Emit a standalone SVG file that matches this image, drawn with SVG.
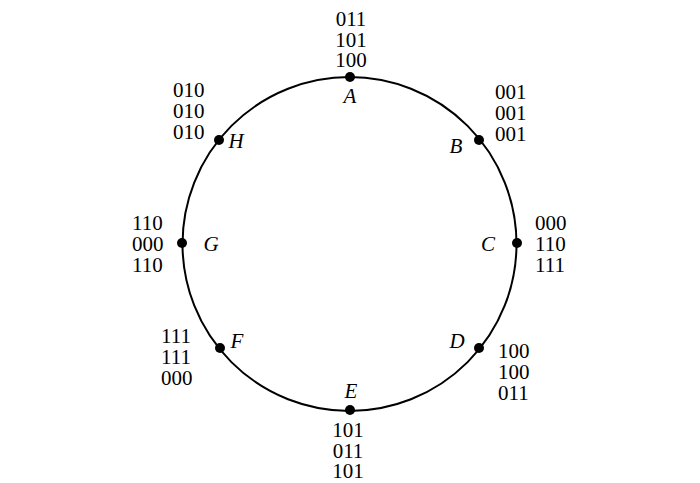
<svg xmlns="http://www.w3.org/2000/svg" width="700" height="483" viewBox="0 0 700 483">
<style>
.c{fill:none;stroke:#000;stroke-width:2}
.d{fill:#000}
.t{font-family:"Liberation Serif","Times New Roman",serif;font-size:21px;fill:#000}
.l{font-family:"Liberation Serif","Times New Roman",serif;font-size:21px;font-style:italic;fill:#000}
</style>
<rect width="700" height="483" fill="#fff"/>
<g id="connectors">
<circle class="c" cx="349.5" cy="244" r="167"/>
</g>
<g id="A">
<circle class="d" cx="350" cy="77" r="5"/>
<text class="t" x="351" text-anchor="middle"><tspan x="351" y="26">011</tspan><tspan x="351" y="47">101</tspan><tspan x="351" y="67">100</tspan></text>
<text class="l" x="350" y="103" text-anchor="middle">A</text>
</g>
<g id="B">
<circle class="d" cx="479" cy="140" r="5"/>
<text class="t" x="495"><tspan x="495" y="99">001</tspan><tspan x="495" y="120">001</tspan><tspan x="495" y="141">001</tspan></text>
<text class="l" x="456" y="153" text-anchor="middle">B</text>
</g>
<g id="C">
<circle class="d" cx="517" cy="243" r="5"/>
<text class="t" x="535"><tspan x="535" y="230">000</tspan><tspan x="535" y="251">110</tspan><tspan x="535" y="272">111</tspan></text>
<text class="l" x="488" y="251" text-anchor="middle">C</text>
</g>
<g id="D">
<circle class="d" cx="479" cy="348" r="5"/>
<text class="t" x="498"><tspan x="498" y="358">100</tspan><tspan x="498" y="379">100</tspan><tspan x="498" y="400">011</tspan></text>
<text class="l" x="457" y="348" text-anchor="middle">D</text>
</g>
<g id="E">
<circle class="d" cx="350" cy="410" r="5"/>
<text class="t" x="348" text-anchor="middle"><tspan x="348" y="437">101</tspan><tspan x="348" y="458">011</tspan><tspan x="348" y="478">101</tspan></text>
<text class="l" x="351" y="398" text-anchor="middle">E</text>
</g>
<g id="F">
<circle class="d" cx="220" cy="348" r="5"/>
<text class="t" x="161"><tspan x="161" y="343">111</tspan><tspan x="161" y="364">111</tspan><tspan x="161" y="385">000</tspan></text>
<text class="l" x="237" y="348" text-anchor="middle">F</text>
</g>
<g id="G">
<circle class="d" cx="182" cy="243" r="5"/>
<text class="t" x="132"><tspan x="132" y="230">110</tspan><tspan x="132" y="251">000</tspan><tspan x="132" y="272">110</tspan></text>
<text class="l" x="211" y="251" text-anchor="middle">G</text>
</g>
<g id="H">
<circle class="d" cx="219" cy="140" r="5"/>
<text class="t" x="173"><tspan x="173" y="97">010</tspan><tspan x="173" y="118">010</tspan><tspan x="173" y="139">010</tspan></text>
<text class="l" x="236" y="148" text-anchor="middle">H</text>
</g>
</svg>
